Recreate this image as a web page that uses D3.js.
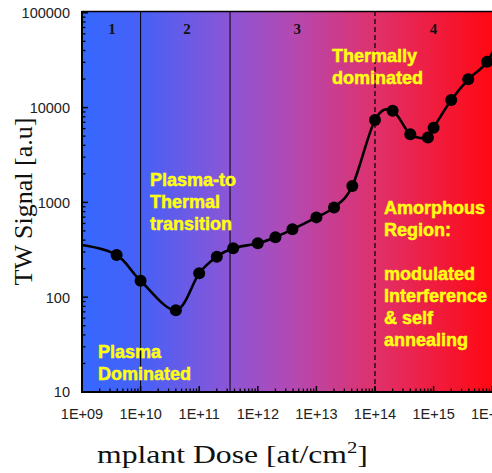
<!DOCTYPE html>
<html>
<head>
<meta charset="utf-8">
<script src="https://cdn.jsdelivr.net/npm/d3@7"></script>
<style>
  html, body { margin: 0; padding: 0; background: #fff; }
  svg { display: block; }
</style>
</head>
<body>
<svg id="chart" width="492" height="473"></svg>
<script>
// ---- data ----
const doses   = [3.9e9, 1e10, 4e10, 1e11, 2e11, 3.8e11, 1e12, 2e12, 3.9e12, 1e13, 2e13, 4.1e13,
                 1e14, 2e14, 4e14, 8e14, 1e15, 2e15, 3.9e15, 8.2e15];
const signals = [279, 149, 73, 179, 267, 328, 370, 429, 520, 695, 886, 1490,
                 7400, 9270, 5220, 4850, 6130, 12000, 19900, 30500];
const curveStart = [1e9, 355];
const curveEnd   = [1.6e16, 70000];
const xTickLabels = ["1E+09", "1E+10", "1E+11", "1E+12", "1E+13", "1E+14", "1E+15", "1E+16"];
const yTickLabels = ["10", "100", "1000", "10000", "100000"];
const regionNames = ["1", "2", "3", "4"];
const regionCenters = [3.25e9, 6.2e10, 4.7e12, 1e15];
const solidBoundaries = [1e10, 3.36e11];
const dashedBoundaries = [1e14];

const svg = d3.select("#chart");
const L = 82, R = 492.2, T = 12.8, B = 392;
const x = d3.scaleLog().domain([1e9, 1e16]).range([L, R]);
const y = d3.scaleLog().domain([10, 100000]).range([B, T]);

// gradient background
const defs = svg.append("defs");
const grad = defs.append("linearGradient").attr("id", "bg")
  .attr("x1", "0%").attr("x2", "100%").attr("y1", "0%").attr("y2", "0%");
[[0, "#3568ff"], [0.15, "#4860f6"], [0.36, "#8c55d6"], [0.52, "#b548b0"],
 [0.72, "#e0306a"], [1, "#ff0812"]].forEach(([o, c]) =>
  grad.append("stop").attr("offset", o).attr("stop-color", c));

defs.append("clipPath").attr("id", "clip").append("rect")
  .attr("x", L).attr("y", 11).attr("width", 500 - L).attr("height", B - 11);

svg.append("rect").attr("x", L).attr("y", 11).attr("width", R - L).attr("height", B - 11)
  .attr("fill", "url(#bg)");

const plot = svg.append("g").attr("clip-path", "url(#clip)");

// region boundaries
plot.selectAll("line.solid").data(solidBoundaries).join("line")
  .attr("x1", d => x(d)).attr("x2", d => x(d)).attr("y1", 11).attr("y2", B)
  .attr("stroke", "#000").attr("stroke-width", 1);
plot.selectAll("line.dash").data(dashedBoundaries).join("line")
  .attr("x1", d => x(d)).attr("x2", d => x(d)).attr("y1", 11).attr("y2", B)
  .attr("stroke", "#000").attr("stroke-width", 1.2).attr("stroke-dasharray", "5,3");

// region numbers
plot.selectAll("text.region").data(regionNames).join("text")
  .attr("x", (d, i) => x(regionCenters[i])).attr("y", 34)
  .attr("text-anchor", "middle")
  .attr("font-family", "Liberation Serif, Times New Roman, serif")
  .attr("font-weight", "bold").attr("font-size", 15).attr("fill", "#111")
  .text(d => d);

// curve
const pts = [curveStart, ...doses.map((d, i) => [d, signals[i]]), curveEnd];
const line = d3.line().x(d => x(d[0])).y(d => y(d[1])).curve(d3.curveCardinal.tension(0));
plot.append("path").attr("d", line(pts)).attr("fill", "none")
  .attr("stroke", "#000").attr("stroke-width", 2.6);
plot.selectAll("circle").data(doses).join("circle")
  .attr("cx", d => x(d)).attr("cy", (d, i) => y(signals[i])).attr("r", 6).attr("fill", "#000");

// annotations
const ann = [
  { x: 332, y: 62, lines: ["Thermally", "dominated"] },
  { x: 150, y: 186, lines: ["Plasma-to", "Thermal", "transition"] },
  { x: 98, y: 357.5, lines: ["Plasma", "Dominated"] },
  { x: 384, y: 214, lines: ["Amorphous", "Region:", "", "modulated", "Interference", "& self", "annealing"] }
];
ann.forEach(a => {
  const t = plot.append("text")
    .attr("font-family", "Liberation Sans, Arial, sans-serif")
    .attr("font-weight", "bold").attr("font-size", 18).attr("fill", "#ffff00")
    .attr("stroke", "#ffff30").attr("stroke-width", 0.5);
  a.lines.forEach((s, i) => {
    t.append("tspan").attr("x", a.x).attr("y", a.y + i * 22).text(s);
  });
});

// axes frame
svg.append("line").attr("x1", L).attr("x2", 492).attr("y1", 11.5).attr("y2", 11.5)
  .attr("stroke", "#000").attr("stroke-width", 1.6);
svg.append("line").attr("x1", L).attr("x2", L).attr("y1", 11).attr("y2", B + 1)
  .attr("stroke", "#000").attr("stroke-width", 2);
svg.append("line").attr("x1", L - 1).attr("x2", 492).attr("y1", B).attr("y2", B)
  .attr("stroke", "#000").attr("stroke-width", 2);

// y ticks (inside)
const yMinor = [];
for (let e = 1; e < 5; e++) for (let m = 2; m <= 9; m++) yMinor.push(m * Math.pow(10, e));
svg.selectAll("line.ymin").data(yMinor).join("line")
  .attr("x1", L).attr("x2", L + 3.5).attr("y1", d => y(d)).attr("y2", d => y(d))
  .attr("stroke", "#000").attr("stroke-width", 1.3);
const yMajor = yTickLabels.map(s => +s);
svg.selectAll("line.ymaj").data(yMajor).join("line")
  .attr("x1", L).attr("x2", L + 6).attr("y1", d => y(d)).attr("y2", d => y(d))
  .attr("stroke", "#000").attr("stroke-width", 1.5);
svg.selectAll("text.ylab").data(yTickLabels).join("text")
  .attr("x", 70).attr("y", d => y(+d) + 5.3).attr("text-anchor", "end")
  .attr("font-family", "Liberation Sans, Arial, sans-serif").attr("font-size", 14.5)
  .attr("fill", "#222").text(d => d);

// x ticks (inside)
const xMinor = [];
for (let e = 9; e < 16; e++) for (let m = 2; m <= 9; m++) xMinor.push(m * Math.pow(10, e));
svg.selectAll("line.xmin").data(xMinor).join("line")
  .attr("x1", d => x(d)).attr("x2", d => x(d)).attr("y1", B).attr("y2", B - 3.5)
  .attr("stroke", "#000").attr("stroke-width", 1.3);
const xMajor = xTickLabels.map(s => +s);
svg.selectAll("line.xmaj").data(xMajor).join("line")
  .attr("x1", d => x(d)).attr("x2", d => x(d)).attr("y1", B).attr("y2", B - 6)
  .attr("stroke", "#000").attr("stroke-width", 1.5);
svg.selectAll("text.xlab").data(xTickLabels).join("text")
  .attr("x", d => x(+d)).attr("y", 419).attr("text-anchor", "middle")
  .attr("font-family", "Liberation Sans, Arial, sans-serif").attr("font-size", 14.5)
  .attr("fill", "#222").text(d => d);

// axis titles
svg.append("text")
  .attr("transform", "translate(32,201.5) rotate(-90)")
  .attr("text-anchor", "middle")
  .attr("font-family", "Liberation Serif, Times New Roman, serif").attr("font-size", 26)
  .attr("fill", "#111").text("TW Signal [a.u]");

const xt = svg.append("text")
  .attr("font-family", "Liberation Serif, Times New Roman, serif").attr("font-size", 26)
  .attr("fill", "#111");
xt.append("tspan").text("mplant Dose [at/cm");
xt.append("tspan").attr("font-size", 17).attr("dy", -10).text("2");
xt.append("tspan").attr("dy", 10).text("]");
const w = xt.node().getBBox().width;
xt.attr("transform", `translate(97,463) scale(${271 / w},1)`);
</script>
</body>
</html>
